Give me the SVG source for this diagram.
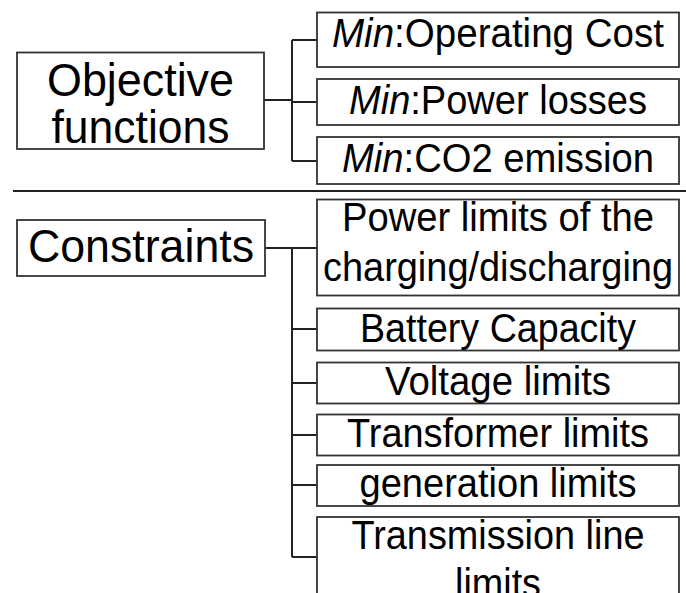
<svg xmlns="http://www.w3.org/2000/svg" width="686" height="593" viewBox="0 0 686 593">
<style>
.box{fill:#fff;stroke:#333;stroke-width:1.8}
.con{fill:none;stroke:#222;stroke-width:2}
.big{font-family:"Liberation Sans",Arial,sans-serif;font-size:46px;fill:#000;text-anchor:middle}
.t{font-family:"Liberation Sans",Arial,sans-serif;font-size:40px;fill:#000;text-anchor:middle}
.i{font-style:italic}
</style>
<rect width="686" height="593" fill="#fff"/>
<g id="connectors">
<path class="con" d="M264 100H292M292 40V161M292 40H317M292 102H317M292 161H317"/>
<path class="con" d="M265 248H317M292 248V557M292 329H317M292 383H317M292 435H317M292 485H317M292 557H317"/>
<path class="con" d="M13 191H686"/>
</g>
<g id="objective">
<rect class="box" x="17" y="52.5" width="247" height="96.5"/>
<text class="big" x="140.5" y="96" textLength="187" lengthAdjust="spacingAndGlyphs">Objective</text>
<text class="big" x="140.5" y="143" textLength="178" lengthAdjust="spacingAndGlyphs">functions</text>
</g>
<g id="min-cost">
<rect class="box" x="317" y="12.5" width="362" height="54.5"/>
<text class="t" x="498" y="47" textLength="332" lengthAdjust="spacingAndGlyphs"><tspan class="i">Min</tspan>:Operating Cost</text>
</g>
<g id="min-losses">
<rect class="box" x="317" y="79" width="362" height="46"/>
<text class="t" x="498" y="114" textLength="298" lengthAdjust="spacingAndGlyphs"><tspan class="i">Min</tspan>:Power losses</text>
</g>
<g id="min-co2">
<rect class="box" x="317" y="137" width="362" height="47"/>
<text class="t" x="498" y="172" textLength="312" lengthAdjust="spacingAndGlyphs"><tspan class="i">Min</tspan>:CO2 emission</text>
</g>
<g id="constraints">
<rect class="box" x="17" y="220" width="248" height="56"/>
<text class="big" x="141" y="262" textLength="226" lengthAdjust="spacingAndGlyphs">Constraints</text>
</g>
<g id="power-limits">
<rect class="box" x="317" y="199.5" width="362" height="96"/>
<text class="t" x="498" y="231" textLength="312" lengthAdjust="spacingAndGlyphs">Power limits of the</text>
<text class="t" x="498" y="281" textLength="350" lengthAdjust="spacingAndGlyphs">charging/discharging</text>
</g>
<g id="battery">
<rect class="box" x="317" y="308.5" width="362" height="42"/>
<text class="t" x="498" y="342" textLength="276" lengthAdjust="spacingAndGlyphs">Battery Capacity</text>
</g>
<g id="voltage">
<rect class="box" x="317" y="362.5" width="362" height="41"/>
<text class="t" x="498" y="395" textLength="226" lengthAdjust="spacingAndGlyphs">Voltage limits</text>
</g>
<g id="transformer">
<rect class="box" x="317" y="414.5" width="362" height="41"/>
<text class="t" x="498" y="447" textLength="302" lengthAdjust="spacingAndGlyphs">Transformer limits</text>
</g>
<g id="generation">
<rect class="box" x="317" y="465" width="362" height="41"/>
<text class="t" x="498" y="497" textLength="277" lengthAdjust="spacingAndGlyphs">generation limits</text>
</g>
<g id="transmission">
<rect class="box" x="317" y="517" width="362" height="90"/>
<text class="t" x="498" y="549" textLength="293" lengthAdjust="spacingAndGlyphs">Transmission line</text>
<text class="t" x="498" y="597" textLength="86" lengthAdjust="spacingAndGlyphs">limits</text>
</g>
</svg>
